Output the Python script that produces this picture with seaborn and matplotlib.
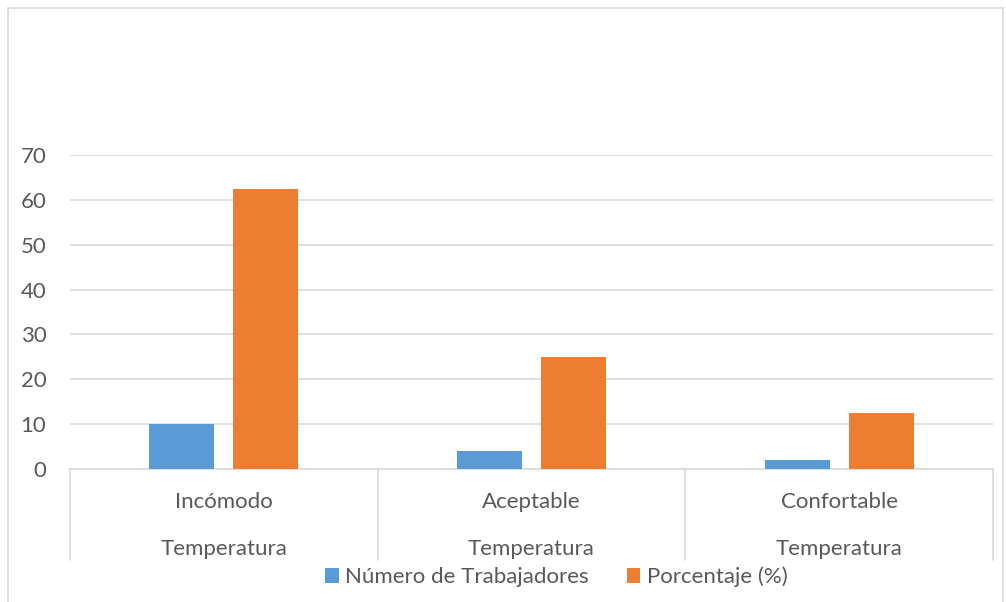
import matplotlib
matplotlib.use("Agg")
import matplotlib.pyplot as plt
import matplotlib.transforms as mtransforms
from matplotlib.patches import Rectangle
import seaborn as sns
import pandas as pd

# Chart data
categorias = ["Incómodo", "Aceptable", "Confortable"]
grupo = "Temperatura"
series = ["Número de Trabajadores", "Porcentaje (%)"]
trabajadores = [10, 4, 2]
porcentaje = [62.5, 25, 12.5]
yticks = [0, 10, 20, 30, 40, 50, 60, 70]

colores = ["#5B9BD5", "#ED7D31"]
texto = "#595959"
linea = "#D9D9D9"
fs = 16

df = pd.DataFrame({
    "categoria": categorias * 2,
    "serie": [series[0]] * 3 + [series[1]] * 3,
    "valor": trabajadores + porcentaje,
})

sns.set_theme(style="white")
plt.rcParams["font.family"] = ["Lato", "DejaVu Sans"]

fig = plt.figure(figsize=(10.06, 6.02), dpi=100)
ax = fig.add_axes([70 / 1006, 1 - 469 / 602, 923 / 1006, 314 / 602])

sns.barplot(data=df, x="categoria", y="valor", hue="serie", order=categorias,
            hue_order=series, palette=colores, width=0.546, gap=0.227,
            saturation=1, errorbar=None, linewidth=0, ax=ax, zorder=3)

ax.set_xlim(-0.5, len(categorias) - 0.5)
ax.set_ylim(0, 70)
ax.set_yticks(yticks)
ax.set_yticklabels([str(t) for t in yticks], color=texto, fontsize=fs)
ax.tick_params(axis="y", length=0, pad=17)
ax.set_xticks([])
ax.set_xlabel("")
ax.set_ylabel("")
ax.yaxis.grid(True, color=linea, linewidth=1.2, zorder=0)
for s in ["top", "right", "left"]:
    ax.spines[s].set_visible(False)
ax.spines["bottom"].set_color(linea)
ax.spines["bottom"].set_linewidth(1.2)

# Two-level category axis below the bars
trans = mtransforms.blended_transform_factory(ax.transData, ax.transAxes)
for xb in [i - 0.5 for i in range(len(categorias) + 1)]:
    ax.plot([xb, xb], [0, -0.29], transform=trans, color=linea,
            linewidth=1.2, clip_on=False)
for i, c in enumerate(categorias):
    ax.text(i, -0.104, c, transform=trans, ha="center", va="center",
            color=texto, fontsize=fs)
    ax.text(i, -0.255, grupo, transform=trans, ha="center", va="center",
            color=texto, fontsize=fs)

leg = ax.get_legend()
if leg is not None:
    leg.remove()
handles, labels = ax.get_legend_handles_labels()
fig.legend(handles, labels, loc="center", bbox_to_anchor=(0.553, 1 - 577 / 602),
           ncol=2, frameon=False, fontsize=fs, labelcolor=texto,
           handlelength=0.6, handleheight=0.6, handletextpad=0.3,
           columnspacing=1.7, borderaxespad=0)

# Chart border
fig.patches.append(Rectangle((8 / 1006, -0.05), 995 / 1006, 1.05 - 8 / 602,
                             transform=fig.transFigure, fill=False,
                             edgecolor=linea, linewidth=1.2))

fig.savefig("out.png", dpi=100)
